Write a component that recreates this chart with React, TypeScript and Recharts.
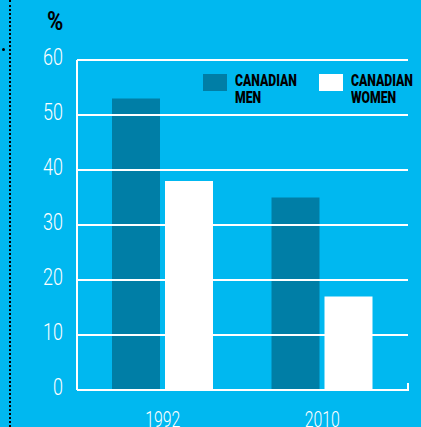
import { Bar, BarChart, ReferenceLine, XAxis, YAxis } from 'recharts'

const YEARS = ['1992', '2010']
const MEN = [53, 35]
const WOMEN = [38, 17]
const Y_TICKS = [0, 10, 20, 30, 40, 50, 60]
const LEGEND = [
  { key: 'men', lines: ['CANADIAN', 'MEN'] },
  { key: 'women', lines: ['CANADIAN', 'WOMEN'] },
]

const BG = '#00B8F0'
const MEN_COLOR = '#007EA6'
const FONT = 'Roboto, sans-serif'

const data = YEARS.map((year, i) => ({ year, men: MEN[i], women: WOMEN[i] }))

function YTick({ x, y, payload }: any) {
  return (
    <text
      transform={`translate(${x},${y + 5}) scale(0.78,1)`}
      textAnchor="end"
      fill="#fff"
      fontSize={23}
      fontWeight={300}
      fontFamily={FONT}
    >
      {payload.value}
    </text>
  )
}

function XTick({ x, y, payload }: any) {
  return (
    <text
      transform={`translate(${x},${y + 29}) scale(0.72,1)`}
      textAnchor="middle"
      fill="#fff"
      fontSize={22}
      fontWeight={300}
      fontFamily={FONT}
    >
      {payload.value}
    </text>
  )
}

function LegendBox() {
  return (
    <div style={{ position: 'absolute', left: 203, top: 74, display: 'flex' }}>
      {LEGEND.map((it) => (
        <div key={it.key} style={{ display: 'flex', alignItems: 'flex-start', width: 116 }}>
          <div
            style={{
              width: 24,
              height: 17,
              flex: 'none',
              background: it.key === 'men' ? MEN_COLOR : '#fff',
              marginRight: 8,
            }}
          />
          <div
            style={{
              fontFamily: FONT,
              fontWeight: 900,
              fontSize: 16.5,
              lineHeight: '17px',
              color: '#000',
              transform: 'scaleX(0.74)',
              transformOrigin: 'left top',
              whiteSpace: 'nowrap',
              marginTop: -2,
            }}
          >
            {it.lines[0]}
            <br />
            {it.lines[1]}
          </div>
        </div>
      ))}
    </div>
  )
}

export default function App() {
  return (
    <div style={{ position: 'absolute', left: 0, top: 0, width: 421, height: 427, background: BG, overflow: 'hidden' }}>
      <div
        style={{
          position: 'absolute',
          left: 9,
          top: 0,
          height: 427,
          borderLeft: '2px dotted #000',
        }}
      />
      <div style={{ position: 'absolute', left: 2, top: 48, width: 3, height: 3, borderRadius: 2, background: '#000' }} />
      <div
        style={{
          position: 'absolute',
          left: 47,
          top: 6,
          fontFamily: FONT,
          fontWeight: 700,
          fontSize: 26,
          color: '#000',
          transform: 'scaleX(0.85)',
          transformOrigin: 'left top',
        }}
      >
        %
      </div>
      <div style={{ position: 'absolute', left: 407, top: 383, width: 2, height: 8, background: '#fff' }} />
      <BarChart
        width={421}
        height={427}
        data={data}
        margin={{ top: 60, right: 13, bottom: 0, left: 0 }}
        barGap={5}
        barSize={48}
      >
        <XAxis
          dataKey="year"
          axisLine={{ stroke: '#fff', strokeWidth: 2 }}
          tickLine={false}
          tick={<XTick />}
          padding={{ left: 6, right: 6 }}
          height={37}
        />
        <YAxis
          domain={[0, 60]}
          ticks={Y_TICKS}
          width={77}
          axisLine={{ stroke: '#fff', strokeWidth: 2 }}
          tickLine={false}
          tick={<YTick />}
          tickMargin={8}
        />
        <Bar dataKey="men" fill={MEN_COLOR} isAnimationActive={false} />
        <Bar dataKey="women" fill="#fff" isAnimationActive={false} />
        {Y_TICKS.filter((t) => t > 0).map((t) => (
          <ReferenceLine key={t} y={t} stroke="#fff" strokeWidth={2} />
        ))}
      </BarChart>
      <LegendBox />
    </div>
  )
}
